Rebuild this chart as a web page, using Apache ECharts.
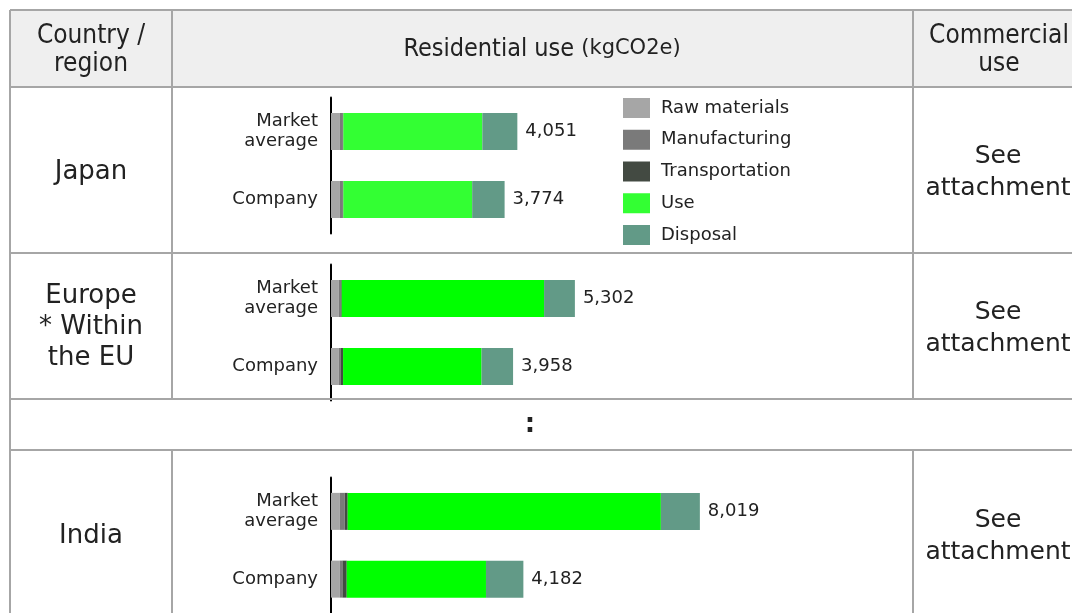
<!DOCTYPE html>
<html>
<head>
<meta charset="utf-8">
<script src="https://cdn.jsdelivr.net/npm/echarts@6/dist/echarts.min.js"></script>
<style>
  html, body { margin: 0; padding: 0; background: #ffffff; }
  #chart { width: 1072px; height: 613px; }
</style>
</head>
<body>
<div id="chart"></div>
<script>
// Life-cycle CO2 per unit (kgCO2e), residential use, by country / region
const categories = ['Market\naverage', 'Company'];
const regionNames = ['Japan', 'Europe\n* Within\nthe EU', 'India'];
const stageNames = ['Raw materials', 'Manufacturing', 'Transportation', 'Use', 'Disposal'];

// Values per stage, order: [Japan market, Japan company, EU market, EU company, India market, India company]
const rawMaterials   = [187, 187, 168, 168, 189, 189];
const manufacturing  = [71, 71, 37, 37, 109, 59];
const transportation = [10, 10, 28, 57, 65, 94];
const useStage       = [3022, 2801, 4399, 3011, 6808, 3027];
const disposal       = [761, 705, 670, 685, 848, 813];

const stageData = [rawMaterials, manufacturing, transportation, useStage, disposal];
const stageColors = ['#a6a6a6', '#7a7a7a', '#434a42', '#33ff33', '#629a87'];
const useColors = ['#33ff33', '#00ff00', '#00ff00'];

// Vertical placement of each region's bar block
const gridTops = [97.5, 264.5, 477.5];
const GRID_H = 136;

const FONT = 'DejaVu Sans';
const FONT_C = 'DejaVu Sans Condensed';
const TEXT = '#222222';
const LINE = '#a6a6a6';

function total(idx) {
  return stageData.reduce((s, arr) => s + arr[idx], 0);
}

const grids = [], xAxes = [], yAxes = [], series = [];
regionNames.forEach((region, r) => {
  grids.push({ left: 331, width: 460, top: gridTops[r], height: GRID_H });
  xAxes.push({ type: 'value', gridIndex: r, min: 0, max: 10000, show: false });
  yAxes.push({
    type: 'category', gridIndex: r, data: categories, inverse: true,
    axisLine: { show: true, lineStyle: { color: '#000000', width: 2 } },
    axisTick: { show: false },
    axisLabel: { fontFamily: FONT, fontSize: 18, color: TEXT, margin: 13, lineHeight: 20, align: 'right' }
  });
  stageNames.forEach((stage, s) => {
    const last = s === stageNames.length - 1;
    series.push({
      name: stage, type: 'bar', stack: 'region' + r,
      xAxisIndex: r, yAxisIndex: r,
      barWidth: 37,
      itemStyle: { color: s === 3 ? useColors[r] : stageColors[s] },
      data: [stageData[s][r * 2], stageData[s][r * 2 + 1]],
      label: last ? {
        show: true, position: 'right', distance: 8,
        fontFamily: FONT, fontSize: 18, color: TEXT,
        formatter: p => total(r * 2 + p.dataIndex).toLocaleString('en-US')
      } : { show: false },
      animation: false
    });
  });
});

// Table frame
const hLine = (y, x1, x2) => ({ type: 'line', z: 1, shape: { x1, y1: y, x2, y2: y }, style: { stroke: LINE, lineWidth: 2 } });
const vLine = (x, y1, y2) => ({ type: 'line', z: 1, shape: { x1: x, y1, x2: x, y2 }, style: { stroke: LINE, lineWidth: 2 } });
const cellText = (x, y, text, size, font, lh) => ({
  type: 'text', z: 5, x, y,
  style: { text, fontFamily: font, fontSize: size, fill: TEXT, align: 'center', verticalAlign: 'middle', lineHeight: lh }
});

const graphic = [
  { type: 'rect', z: 0, shape: { x: 10, y: 10, width: 1062, height: 77 }, style: { fill: '#efefef' } },
  hLine(10, 10, 1072), hLine(87, 10, 1072), hLine(253, 10, 1072), hLine(399, 10, 1072), hLine(450, 10, 1072),
  vLine(10, 10, 613),
  vLine(172, 10, 399), vLine(172, 450, 613),
  vLine(913, 10, 399), vLine(913, 450, 613),
  cellText(91, 50, 'Country /\nregion', 26, FONT_C, 28),
  cellText(999, 50, 'Commercial\nuse', 26, FONT_C, 28),
  {
    type: 'text', z: 5, x: 542, y: 49,
    style: {
      text: '{a|Residential use }{b|(kgCO2e)}', align: 'center', verticalAlign: 'middle',
      rich: {
        a: { fontFamily: FONT_C, fontSize: 25, fill: TEXT, color: TEXT },
        b: { fontFamily: FONT, fontSize: 21, fill: TEXT, color: TEXT }
      }
    }
  },
  cellText(91, 172, regionNames[0], 26, FONT, 31),
  cellText(91, 327, regionNames[1], 26, FONT, 31),
  cellText(91, 536, regionNames[2], 26, FONT, 31),
  cellText(998, 172, 'See\nattachment', 25, FONT, 32),
  cellText(998, 328, 'See\nattachment', 25, FONT, 32),
  cellText(998, 536, 'See\nattachment', 25, FONT, 32),
  { type: 'text', z: 5, x: 530, y: 425, style: { text: ':', fontFamily: FONT, fontWeight: 'bold', fontSize: 26, fill: TEXT, align: 'center', verticalAlign: 'middle' } }
];

const chart = echarts.init(document.getElementById('chart'), null, { renderer: 'canvas' });
chart.setOption({
  animation: false,
  backgroundColor: '#ffffff',
  grid: grids,
  xAxis: xAxes,
  yAxis: yAxes,
  legend: {
    orient: 'vertical', left: 618, top: 93,
    data: stageNames, icon: 'rect',
    itemWidth: 27, itemHeight: 20, itemGap: 11.75,
    selectedMode: false,
    textStyle: { fontFamily: FONT, fontSize: 18, color: TEXT, padding: [0, 0, 0, 6] }
  },
  graphic,
  series
});
</script>
</body>
</html>
